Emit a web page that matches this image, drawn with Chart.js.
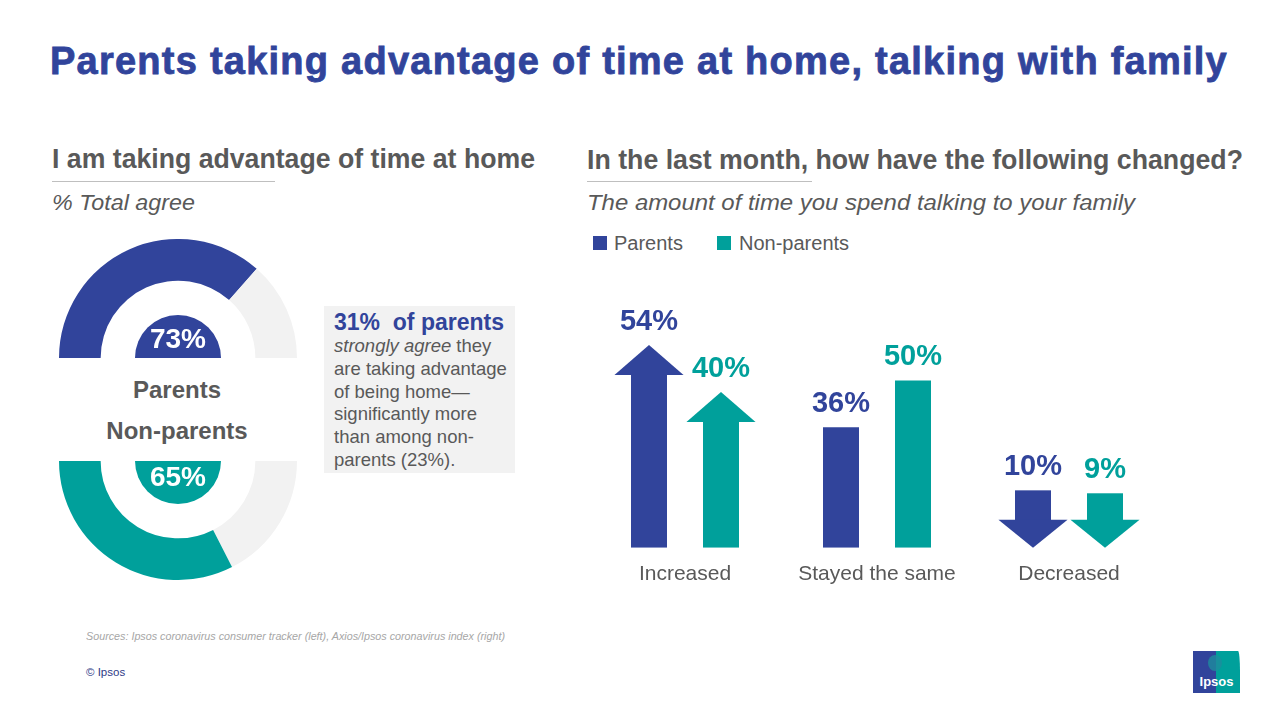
<!DOCTYPE html>
<html><head><meta charset="utf-8">
<script src="https://cdn.jsdelivr.net/npm/chart.js@4.4.0/dist/chart.umd.min.js"></script>
<style>
html,body{margin:0;padding:0}
body{width:1280px;height:720px;background:#fff;font-family:"Liberation Sans",Arial,sans-serif;position:relative;overflow:hidden;color:#595959}
.abs{position:absolute;white-space:nowrap;line-height:1}
.box{position:absolute}
</style></head><body>

<div id="title" class="abs" style="left:50px;top:42px;font-size:38px;font-weight:bold;color:#31449B;-webkit-text-stroke:0.8px #31449B">Parents taking advantage of time at home, talking with family</div>

<div id="subL" class="abs" style="left:52px;top:145px;font-size:28px;font-weight:bold">I am taking advantage of time at home</div>
<div class="box" style="left:52px;top:181px;width:223px;height:1px;background:#BFBFBF"></div>
<div id="itL" class="abs" style="left:52px;top:192px;font-size:22px;font-style:italic">% Total agree</div>

<div id="subR" class="abs" style="left:587px;top:146px;font-size:28px;font-weight:bold">In the last month, how have the following changed?</div>
<div class="box" style="left:587px;top:181px;width:225px;height:1px;background:#BFBFBF"></div>
<div id="itR" class="abs" style="left:587px;top:192px;font-size:22px;font-style:italic">The amount of time you spend talking to your family</div>

<!-- legend -->
<div class="box" style="left:593px;top:236px;width:14px;height:14px;background:#31449B"></div>
<div class="abs" style="left:614px;top:233px;font-size:20px">Parents</div>
<div class="box" style="left:717px;top:236px;width:14px;height:14px;background:#00A09B"></div>
<div class="abs" style="left:739px;top:233px;font-size:20px">Non-parents</div>

<!-- donuts -->
<div class="box" style="left:59px;top:239px;width:238px;height:119px"><canvas id="donutTop"></canvas></div>
<div class="box" style="left:59px;top:461px;width:238px;height:119px"><canvas id="donutBot"></canvas></div>
<div class="abs" style="left:77px;top:378px;width:200px;text-align:center;font-size:24px;font-weight:bold">Parents</div>
<div class="abs" style="left:77px;top:419px;width:200px;text-align:center;font-size:24px;font-weight:bold">Non-parents</div>

<!-- callout box -->
<div class="box" style="left:324px;top:306px;width:191px;height:167px;background:#F2F2F2"></div>
<div class="abs" style="left:334px;top:311px;font-size:23px;font-weight:bold;color:#31449B">31%&nbsp; of parents</div>
<div class="abs" style="left:334px;top:337px;font-size:18.5px"><i>strongly agree</i> they</div>
<div class="abs" style="left:334px;top:360px;font-size:18.5px">are taking advantage</div>
<div class="abs" style="left:334px;top:383px;font-size:18.5px">of being home—</div>
<div class="abs" style="left:334px;top:405px;font-size:18.5px">significantly more</div>
<div class="abs" style="left:334px;top:428px;font-size:18.5px">than among non-</div>
<div class="abs" style="left:334px;top:451px;font-size:18.5px">parents (23%).</div>

<!-- bar chart -->
<div class="box" style="left:583px;top:280px;width:600px;height:321px"><canvas id="bars"></canvas></div>

<div id="src" class="abs" style="left:86px;top:631px;font-size:10.5px;font-style:italic;color:#A6A6A6">Sources: Ipsos coronavirus consumer tracker (left), Axios/Ipsos coronavirus index (right)</div>
<div class="abs" style="left:86px;top:667px;font-size:11.5px;color:#2E3A87">© Ipsos</div>

<div class="box" style="left:1193px;top:651px;width:47px;height:42px;background:linear-gradient(90deg,#31449B 0,#31449B 48%,#00A09B 48%);border-top-right-radius:2px 20px;overflow:hidden">
  <div class="box" style="left:15px;top:4px;width:14px;height:16px;border-radius:50%;background:#1E8C9E;opacity:.8"></div>
  <div class="abs" style="left:0;top:24px;width:47px;text-align:center;font-size:13px;font-weight:bold;color:#fff">Ipsos</div>
</div>

<script>
// ---------- data ----------
const BLUE = '#31449B', TEAL = '#00A09B', LIGHT = '#F2F2F2';
const donutGroups = ['Parents', 'Non-parents'];
const agreeValues = [73, 65];
const categories = ['Increased', 'Stayed the same', 'Decreased'];
const parentsValues = [54, 36, 10];
const nonParentsValues = [40, 50, 9];
const shapes = ['up', 'bar', 'down'];

// ---------- text fitting ----------
function fitX(id, target){const el=document.getElementById(id);const w=el.getBoundingClientRect().width;el.style.transformOrigin='left center';el.style.transform='scaleX('+(target/w)+')';}
function fitLS(id, target){const el=document.getElementById(id);const w=el.getBoundingClientRect().width;const n=el.textContent.length;el.style.letterSpacing=((target-w)/n)+'px';}
fitLS('title', 1178);
fitX('subL', 483);
fitX('subR', 656);
fitX('itL', 143);
fitX('itR', 548);
fitX('src', 419);

// ---------- donuts ----------
const centerPlugin = {
  id: 'centerCap',
  afterDatasetsDraw(chart, args, opts){
    const arc = chart.getDatasetMeta(0).data[0];
    const {x, y} = arc.getProps(['x','y'], true);
    const ctx = chart.ctx;
    ctx.save();
    ctx.fillStyle = opts.color;
    ctx.beginPath();
    if (opts.up) { ctx.moveTo(x-43,y); ctx.arc(x, y, 43, Math.PI, 2*Math.PI); }
    else { ctx.moveTo(x+43,y); ctx.arc(x, y, 43, 0, Math.PI); }
    ctx.closePath(); ctx.fill();
    ctx.fillStyle = '#fff';
    ctx.font = 'bold 28px "Liberation Sans", Arial';
    ctx.textAlign = 'center'; ctx.textBaseline = 'middle';
    ctx.fillText(opts.text, x, opts.up ? y-18 : y+17);
    ctx.restore();
  }
};
function donut(id, data, colors, rotation, capColor, up, text, label){
  new Chart(document.getElementById(id), {
    type: 'doughnut',
    data: { labels: [label, 'Other'], datasets: [{ data, backgroundColor: colors, borderWidth: 0 }] },
    options: {
      responsive: true, maintainAspectRatio: false, animation: false, events: [],
      rotation, circumference: 180, cutout: '65%',
      layout: { padding: 0 },
      plugins: { legend: { display: false }, tooltip: { enabled: false },
        centerCap: { color: capColor, up, text } }
    },
    plugins: [centerPlugin]
  });
}
donut('donutTop', [agreeValues[0], 100-agreeValues[0]], [BLUE, LIGHT], -90, BLUE, true, agreeValues[0]+'%', donutGroups[0]);
donut('donutBot', [100-agreeValues[1], agreeValues[1]], [LIGHT, TEAL], 90, TEAL, false, agreeValues[1]+'%', donutGroups[1]);

// ---------- bars with arrows ----------
const arrowPlugin = {
  id: 'arrows',
  afterDatasetsDraw(chart){
    const ctx = chart.ctx;
    chart.data.datasets.forEach((ds, di) => {
      const meta = chart.getDatasetMeta(di);
      meta.data.forEach((bar, i) => {
        const {x, y, base, width} = bar.getProps(['x','y','base','width'], true);
        const hw = width * 0.96;
        let topY;
        ctx.save();
        ctx.fillStyle = ds.arrowColor;
        if (shapes[i] === 'up') {
          const tip = y - 22;
          ctx.beginPath(); ctx.moveTo(x, tip); ctx.lineTo(x+hw, y+8); ctx.lineTo(x-hw, y+8); ctx.closePath(); ctx.fill();
          topY = tip;
        } else if (shapes[i] === 'down') {
          const h = base - y, headH = 28;
          ctx.fillRect(x - width/2, base - headH - h*0.88, width, h*0.88 + 1);
          ctx.beginPath(); ctx.moveTo(x-hw, base-headH); ctx.lineTo(x+hw, base-headH); ctx.lineTo(x, base); ctx.closePath(); ctx.fill();
          topY = base - headH - h*0.88;
        } else topY = y;
        ctx.font = 'bold 29px "Liberation Sans", Arial';
        ctx.textAlign = 'center'; ctx.textBaseline = 'middle';
        ctx.fillText(ds.data[i] + '%', x, topY - 23);
        ctx.restore();
      });
    });
  }
};
new Chart(document.getElementById('bars'), {
  type: 'bar',
  data: {
    labels: categories,
    datasets: [
      { label: 'Parents', data: parentsValues, arrowColor: BLUE,
        backgroundColor: shapes.map(s => s === 'down' ? 'rgba(0,0,0,0)' : BLUE) },
      { label: 'Non-parents', data: nonParentsValues, arrowColor: TEAL,
        backgroundColor: shapes.map(s => s === 'down' ? 'rgba(0,0,0,0)' : TEAL) }
    ]
  },
  options: {
    responsive: true, maintainAspectRatio: false, animation: false, events: [],
    barPercentage: 0.5, categoryPercentage: 0.75,
    layout: { padding: { left: 6, right: 18, top: 10, bottom: 0 } },
    scales: {
      x: { grid: { display: false, drawTicks: false }, border: { display: false },
           ticks: { color: '#595959', padding: 14, font: { size: 21, family: '"Liberation Sans", Arial' } } },
      y: { display: false, min: 0, max: 77 }
    },
    plugins: { legend: { display: false }, tooltip: { enabled: false } }
  },
  plugins: [arrowPlugin]
});
</script>
</body></html>
